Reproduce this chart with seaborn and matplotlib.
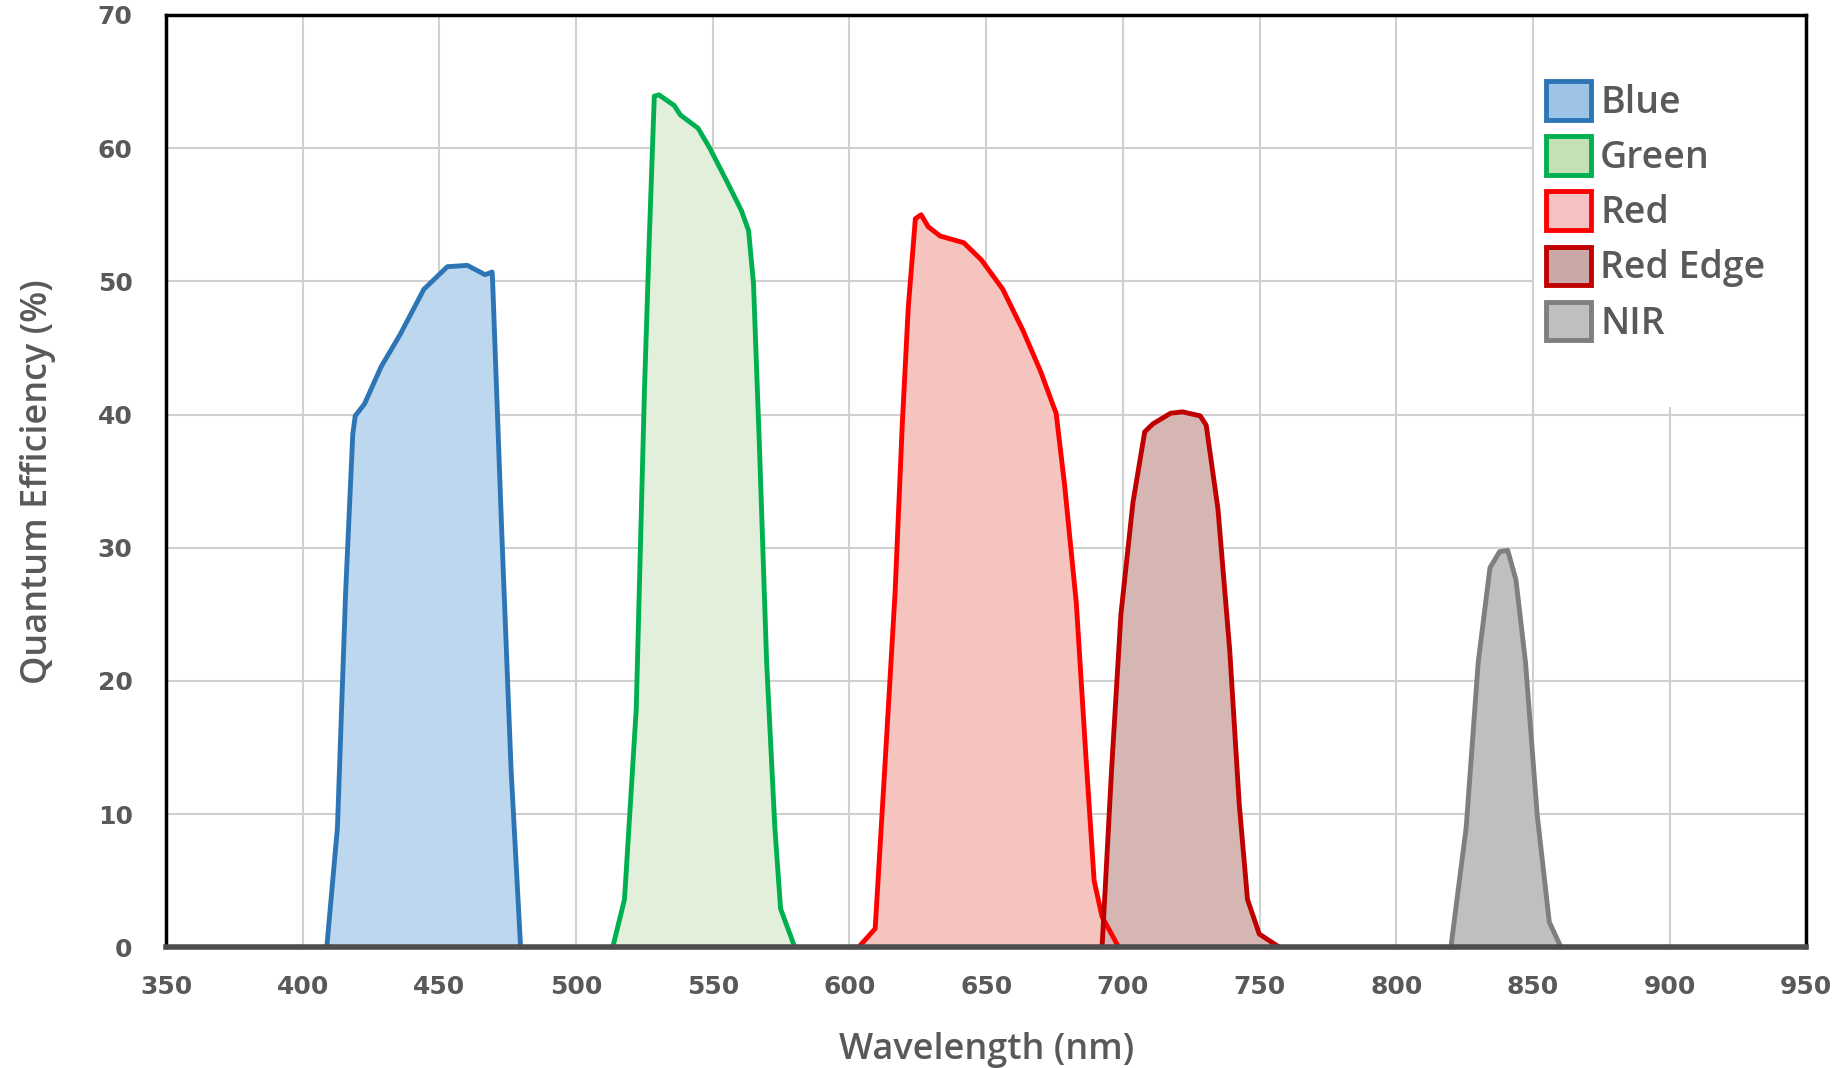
import numpy as np
import pandas as pd
import seaborn as sns
import matplotlib.pyplot as plt
from matplotlib.patches import Patch, Rectangle

# values (wavelength nm, quantum efficiency %)
blue_wl = [408.8, 412.7, 415.7, 418.3, 419.2, 422.6, 428.7, 435.6, 444.3, 452.9, 460.2, 466.7, 469.3, 469.5, 472.8, 476.2, 479.7]
blue_qe = [0, 9, 26.7, 38.5, 39.9, 40.8, 43.6, 46, 49.4, 51.1, 51.2, 50.5, 50.7, 49.8, 31.2, 13.4, 0]

green_wl = [513.4, 517.7, 522, 525, 526.8, 528.6, 530.3, 535.9, 538.1, 544.6, 548.9, 555.4, 560.5, 563.1, 564.9, 567.1, 569.7, 572.7, 574.8, 580]
green_qe = [0, 3.6, 17.9, 41.8, 53.4, 63.9, 64, 63.2, 62.5, 61.5, 60, 57.4, 55.3, 53.8, 49.8, 37.4, 21.4, 9, 2.9, 0]

red_wl = [603.3, 609.4, 612.9, 616.7, 619.3, 621.5, 624.1, 626.2, 628.8, 633.2, 641.8, 648.3, 656.1, 663.5, 670, 674.3, 675.6, 678.7, 683, 686.5, 689.5, 692.4, 698.5]
red_qe = [0, 1.4, 13.4, 26.7, 39.2, 48, 54.7, 55, 54.1, 53.4, 52.9, 51.6, 49.4, 46.3, 43.2, 40.8, 40.1, 34.7, 25.8, 14.3, 5, 2.3, 0]

rededge_wl = [692.4, 695.9, 699.3, 703.7, 708, 711, 717.5, 721.8, 728.3, 730.5, 734.8, 739.1, 742.6, 745.6, 749.9, 757.3]
rededge_qe = [0, 13.4, 25, 33.4, 38.7, 39.3, 40.1, 40.2, 39.9, 39.2, 32.9, 22.3, 10.7, 3.6, 1, 0]

nir_wl = [820, 825.6, 830, 834.3, 837.8, 840.8, 843.8, 847.3, 851.6, 856, 860.3]
nir_qe = [0, 9, 21.4, 28.5, 29.7, 29.8, 27.6, 21.4, 9.9, 1.9, 0]

bands = ["Blue", "Green", "Red", "Red Edge", "NIR"]
x_ticks = [350, 400, 450, 500, 550, 600, 650, 700, 750, 800, 850, 900, 950]
y_ticks = [0, 10, 20, 30, 40, 50, 60, 70]

line_colors = {"Blue": "#2E75B6", "Green": "#00B050", "Red": "#FF0000",
               "Red Edge": "#C00000", "NIR": "#7F7F7F"}
fill_colors = {"Blue": "#BDD7EE", "Green": "#E2EFDA", "Red": "#F5C4BF",
               "Red Edge": "#D5B6B3", "NIR": "#BFBFBF"}
legend_fill = {"Blue": "#9DC3E6", "Green": "#C5E0B4", "Red": "#F4C2C2",
               "Red Edge": "#C9A9A6", "NIR": "#BFBFBF"}

df = pd.concat([
    pd.DataFrame({"wl": blue_wl, "qe": blue_qe, "band": "Blue"}),
    pd.DataFrame({"wl": green_wl, "qe": green_qe, "band": "Green"}),
    pd.DataFrame({"wl": red_wl, "qe": red_qe, "band": "Red"}),
    pd.DataFrame({"wl": rededge_wl, "qe": rededge_qe, "band": "Red Edge"}),
    pd.DataFrame({"wl": nir_wl, "qe": nir_qe, "band": "NIR"}),
], ignore_index=True)

sns.set_style("whitegrid")
plt.rcParams["font.family"] = ["Open Sans", "DejaVu Sans"]
text_gray = "#595959"

fig = plt.figure(figsize=(18.45, 10.68), dpi=100)
ax = fig.add_axes([0.090, 0.113, 0.889, 0.873])

for b in bands:
    d = df[df["band"] == b]
    ax.fill_between(d["wl"], d["qe"], 0, color=fill_colors[b], linewidth=0, zorder=2)

sns.lineplot(data=df, x="wl", y="qe", hue="band", palette=line_colors,
             estimator=None, sort=False, linewidth=3.5, legend=False, ax=ax, zorder=3)

ax.set_xlim(350, 950)
ax.set_ylim(0, 70)
ax.set_xticks(x_ticks)
ax.set_yticks(y_ticks)
ax.grid(True, color="#D0D0D0", linewidth=1.5)
ax.set_axisbelow(True)
ax.tick_params(length=0, labelsize=18, labelcolor=text_gray)
ax.tick_params(axis="y", pad=24)
ax.tick_params(axis="x", pad=20)
for lab in ax.get_xticklabels() + ax.get_yticklabels():
    lab.set_family("DejaVu Sans")
    lab.set_fontweight("bold")

for side in ["top", "left", "right"]:
    ax.spines[side].set_color("black")
    ax.spines[side].set_linewidth(2.5)
ax.spines["bottom"].set_color("#4D4D4D")
ax.spines["bottom"].set_linewidth(4)
ax.spines["bottom"].set_zorder(4)

ax.set_xlabel("Wavelength (nm)", fontsize=26, color=text_gray, fontweight="semibold", labelpad=24)
ax.set_ylabel("Quantum Efficiency (%)", fontsize=26, color=text_gray, fontweight="semibold", labelpad=30)

# white area behind the legend (hides grid there)
ax.add_patch(Rectangle((0.834, 0.58), 0.166, 0.42, transform=ax.transAxes,
                       facecolor="white", edgecolor="none", zorder=1.5))

handles = [Patch(facecolor=legend_fill[b], edgecolor=line_colors[b], linewidth=3.5, label=b)
           for b in bands]
leg = ax.legend(handles=handles, loc="upper left", bbox_to_anchor=(0.832, 0.945),
                frameon=False, fontsize=27, handlelength=1.2, handleheight=1.2,
                handletextpad=0.25, labelspacing=0.38, borderaxespad=0)
for t in leg.get_texts():
    t.set_color(text_gray)
    t.set_fontweight("semibold")

fig.savefig("out.png", dpi=100, facecolor="white")
